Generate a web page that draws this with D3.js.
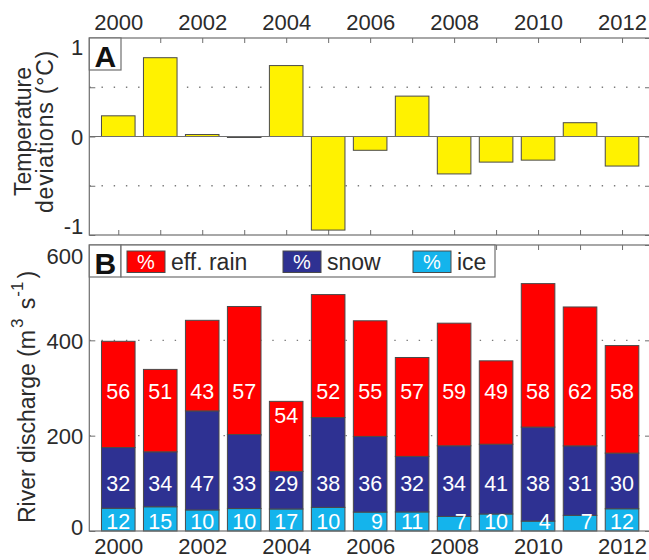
<!DOCTYPE html>
<html>
<head>
<meta charset="utf-8">
<script src="https://cdn.jsdelivr.net/npm/d3@7"></script>
<style>
  html, body { margin: 0; padding: 0; background: #fff; }
  svg { display: block; font-family: "Liberation Sans", Arial, Helvetica, sans-serif; }
</style>
</head>
<body>
<div id="chart"></div>
<script>
// Annual data, 2000-2012
const years = [2000, 2001, 2002, 2003, 2004, 2005, 2006, 2007, 2008, 2009, 2010, 2011, 2012];
const labelYears = [2000, 2002, 2004, 2006, 2008, 2010, 2012];

// Panel A: temperature deviations (°C)
const tempDev = [0.21, 0.80, 0.02, -0.01, 0.72, -0.95, -0.14, 0.41, -0.38, -0.26, -0.24, 0.14, -0.30];
const tempTicks = [-1, -0.5, 0, 0.5, 1];
const tempTickLabels = ["-1", "", "0", "", "1"];

// Panel B: mean river discharge (m3 s-1) and its composition (%)
const totalQ = [398, 339, 442, 471, 272, 496, 441, 364, 436, 357, 519, 470, 389];
const rainPct = [56, 51, 43, 57, 54, 52, 55, 57, 59, 49, 58, 62, 58];
const snowPct = [32, 34, 47, 33, 29, 38, 36, 32, 34, 41, 38, 31, 30];
const icePct = [12, 15, 10, 10, 17, 10, 9, 11, 7, 10, 4, 7, 12];
const qTicks = [0, 200, 400, 600];

const components = ["ice", "snow", "rain"];
const legendNames = ["eff. rain", "snow", "ice"];
const colors = { rain: "#ff0000", snow: "#2e3192", ice: "#14b4ec" };

const W = 649, H = 560;
const textColor = "#2b2b2b";
const axisColor = "#6e6e6e";
const edgeColor = "#4a4a4a";
const tickFont = 22;

const svg = d3.select("#chart").append("svg")
  .attr("width", W).attr("height", H);

const x = d3.scaleLinear().domain([1999.31, 2012.69]).range([89.3, 651]);
const step = x(2001) - x(2000);
const bw = 0.8 * step;

const yA = d3.scaleLinear().domain([-1, 1]).range([235, 38]);
const yB = d3.scaleLinear().domain([0, 600]).range([531, 245]);

const plotLeft = x.range()[0], plotRight = x.range()[1];

function styleAxis(g, fs) {
  g.select(".domain").remove();
  g.selectAll(".tick line").attr("stroke", axisColor).attr("stroke-width", 1);
  g.selectAll(".tick text").attr("fill", textColor)
    .attr("font-size", fs).attr("font-family", "Liberation Sans, Arial, sans-serif");
}

function grid(y, values) {
  svg.append("g").selectAll("line").data(values).join("line")
    .attr("x1", plotLeft).attr("x2", plotRight)
    .attr("y1", d => y(d)).attr("y2", d => y(d))
    .attr("stroke", "#7a7a7a").attr("stroke-width", 1.4)
    .attr("stroke-dasharray", "1.4,10.8");
}

/* ---------------- Panel A ---------------- */
grid(yA, [-0.5, 0.5]);

// year ticks on the top and bottom edges
svg.append("g").attr("transform", `translate(0,${yA.range()[1]})`)
  .call(d3.axisTop(x).tickValues(years).tickSize(-5).tickFormat(d => labelYears.includes(d) ? d : "").tickPadding(8))
  .call(g => styleAxis(g, tickFont));
svg.append("g").attr("transform", `translate(0,${yA.range()[0]})`)
  .call(d3.axisBottom(x).tickValues(years).tickSize(-5).tickFormat(""))
  .call(g => styleAxis(g, tickFont));

const yAxisA = svg.append("g").attr("transform", `translate(${plotLeft},0)`)
  .call(d3.axisLeft(yA).tickValues(tempTicks).tickSize(-6).tickPadding(6)
    .tickFormat((d, i) => tempTickLabels[i]))
  .call(g => styleAxis(g, tickFont));
yAxisA.selectAll(".tick text").attr("dy", d => d === 1 ? "0.76em" : d === -1 ? "-0.05em" : "0.36em");
svg.append("g").attr("transform", `translate(${plotRight},0)`)
  .call(d3.axisRight(yA).tickValues(tempTicks).tickSize(-6).tickFormat(""))
  .call(g => styleAxis(g, tickFont));

svg.append("g").selectAll("rect").data(years).join("rect")
  .attr("x", d => x(d) - bw / 2)
  .attr("width", bw)
  .attr("y", (d, i) => yA(Math.max(0, tempDev[i])))
  .attr("height", (d, i) => Math.abs(yA(tempDev[i]) - yA(0)))
  .attr("fill", "#fff200")
  .attr("stroke", edgeColor).attr("stroke-width", 1);

// zero baseline
svg.append("line")
  .attr("x1", plotLeft).attr("x2", plotRight)
  .attr("y1", yA(0)).attr("y2", yA(0))
  .attr("stroke", axisColor).attr("stroke-width", 1.2);

svg.append("rect")
  .attr("x", plotLeft).attr("y", yA.range()[1])
  .attr("width", plotRight - plotLeft).attr("height", yA.range()[0] - yA.range()[1])
  .attr("fill", "none").attr("stroke", axisColor).attr("stroke-width", 1.2);

// panel letter
svg.append("rect").attr("x", plotLeft).attr("y", yA.range()[1]).attr("width", 31.7).attr("height", 32)
  .attr("fill", "#fff").attr("stroke", axisColor).attr("stroke-width", 1.2);
svg.append("text").attr("x", plotLeft + 16).attr("y", yA.range()[1] + 28.5)
  .attr("text-anchor", "middle").attr("font-size", 30).attr("font-weight", "bold")
  .attr("fill", "#111").text("A");

// y label A
const ylA = svg.append("text")
  .attr("transform", `translate(0,${(yA.range()[0] + yA.range()[1]) / 2 - 5}) rotate(-90)`)
  .attr("text-anchor", "middle").attr("font-size", 23).attr("fill", textColor);
ylA.append("tspan").attr("x", 0).attr("y", 31).text("Temperature");
ylA.append("tspan").attr("x", 0).attr("y", 53).attr("letter-spacing", 0.8).text("deviations (°C)");

/* ---------------- Panel B ---------------- */
grid(yB, [200, 400]);

svg.append("g").attr("transform", `translate(0,${yB.range()[1]})`)
  .call(d3.axisTop(x).tickValues(years).tickSize(-5).tickFormat(""))
  .call(g => styleAxis(g, tickFont));
svg.append("g").attr("transform", `translate(0,${yB.range()[0]})`)
  .call(d3.axisBottom(x).tickValues(years).tickSize(-5).tickPadding(7.5)
    .tickFormat(d => labelYears.includes(d) ? d : ""))
  .call(g => styleAxis(g, tickFont));

const yAxisB = svg.append("g").attr("transform", `translate(${plotLeft},0)`)
  .call(d3.axisLeft(yB).tickValues(qTicks).tickSize(-6).tickPadding(6))
  .call(g => styleAxis(g, tickFont));
yAxisB.selectAll(".tick text").attr("dy", d => d === 600 ? "0.86em" : d === 0 ? "0.15em" : "0.36em");
svg.append("g").attr("transform", `translate(${plotRight},0)`)
  .call(d3.axisRight(yB).tickValues(qTicks).tickSize(-6).tickFormat(""))
  .call(g => styleAxis(g, tickFont));

// stacked discharge components, built from totals and percentages
const rows = years.map((yr, i) => ({
  year: yr, total: totalQ[i],
  ice: totalQ[i] * icePct[i] / 100,
  snow: totalQ[i] * snowPct[i] / 100,
  rain: totalQ[i] * rainPct[i] / 100,
  pct: { ice: icePct[i], snow: snowPct[i], rain: rainPct[i] }
}));
const stacked = d3.stack().keys(components)(rows);

svg.append("g").selectAll("g").data(stacked).join("g")
  .attr("fill", s => colors[s.key])
  .selectAll("rect").data(s => s).join("rect")
  .attr("x", d => x(d.data.year) - bw / 2)
  .attr("width", bw)
  .attr("y", d => yB(d[1]))
  .attr("height", d => yB(d[0]) - yB(d[1]))
  .attr("stroke", edgeColor).attr("stroke-width", 1);

// percentage labels
const digitW = 11.7;
function pctLabel(key, posFn) {
  svg.append("g").selectAll("text").data(rows).join("text")
    .attr("x", d => d.pct[key] < 10 ? x(d.year) + digitW + 1 : x(d.year))
    .attr("text-anchor", d => d.pct[key] < 10 ? "end" : "middle")
    .attr("y", d => yB(posFn(d)))
    .attr("dy", "0.36em")
    .attr("font-size", 21.5).attr("fill", "#fff")
    .text(d => d.pct[key]);
}
pctLabel("rain", d => Math.min(294, d.total - 30));
pctLabel("snow", () => 100);
pctLabel("ice", () => 19.5);

svg.append("rect")
  .attr("x", plotLeft).attr("y", yB.range()[1])
  .attr("width", plotRight - plotLeft).attr("height", yB.range()[0] - yB.range()[1])
  .attr("fill", "none").attr("stroke", axisColor).attr("stroke-width", 1.2);

// panel letter + legend
const topB = yB.range()[1];
svg.append("rect").attr("x", plotLeft).attr("y", topB).attr("width", 31.7).attr("height", 32)
  .attr("fill", "#fff").attr("stroke", axisColor).attr("stroke-width", 1.2);
svg.append("text").attr("x", plotLeft + 16).attr("y", topB + 28.5)
  .attr("text-anchor", "middle").attr("font-size", 30).attr("font-weight", "bold")
  .attr("fill", "#111").text("B");

svg.append("rect").attr("x", plotLeft + 31.7).attr("y", topB).attr("width", 374).attr("height", 32)
  .attr("fill", "#fff").attr("stroke", axisColor).attr("stroke-width", 1.2);

const legendKeys = ["rain", "snow", "ice"];
const swatchX = [127, 283, 413];
legendKeys.forEach((k, i) => {
  const g = svg.append("g").attr("transform", `translate(${swatchX[i]},${topB + 6})`);
  g.append("rect").attr("width", 38).attr("height", 21.5)
    .attr("fill", colors[k]).attr("stroke", edgeColor).attr("stroke-width", 1);
  g.append("text").attr("x", 19).attr("y", 18).attr("text-anchor", "middle")
    .attr("font-size", 20).attr("fill", "#fff").text("%");
  g.append("text").attr("x", 44).attr("y", 19)
    .attr("font-size", 23).attr("fill", textColor).text(legendNames[i]);
});

// y label B
const ylB = svg.append("text")
  .attr("transform", `translate(35,${(yB.range()[0] + yB.range()[1]) / 2 + 9}) rotate(-90)`)
  .attr("text-anchor", "middle").attr("font-size", 23).attr("fill", textColor);
ylB.append("tspan").text("River discharge (m");
ylB.append("tspan").attr("font-size", 17).attr("dx", 2).attr("dy", -12).text("3");
ylB.append("tspan").attr("dx", 3).attr("dy", 12).text(" s");
ylB.append("tspan").attr("font-size", 17).attr("dx", 1).attr("dy", -12).text("-1");
ylB.append("tspan").attr("dx", 3).attr("dy", 12).text(")");
</script>
</body>
</html>
